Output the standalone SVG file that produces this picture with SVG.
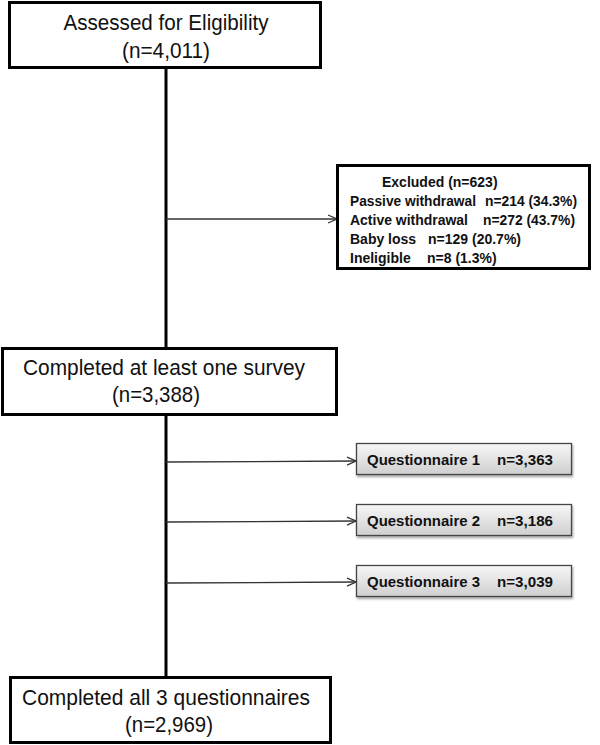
<svg xmlns="http://www.w3.org/2000/svg" width="600" height="745" viewBox="0 0 600 745">
<defs>
<linearGradient id="qg" x1="0" y1="0" x2="0" y2="1">
<stop offset="0" stop-color="#f7f7f7"/>
<stop offset="1" stop-color="#cfcfcf"/>
</linearGradient>
<filter id="sh" x="-5%" y="-20%" width="110%" height="150%">
<feDropShadow dx="1" dy="2" stdDeviation="1.2" flood-color="#000" flood-opacity="0.35"/>
</filter>
<marker id="ah" viewBox="0 0 10 10" refX="10" refY="5" markerWidth="10" markerHeight="10" markerUnits="userSpaceOnUse" orient="auto">
<path d="M1,1 L10,5 L1,9" fill="none" stroke="#333" stroke-width="1.3"/>
</marker>
<style>
.main{fill:#fff;stroke:#000;stroke-width:3}
.exc{fill:#fff;stroke:#000;stroke-width:3}
.q{fill:url(#qg);stroke:#444;stroke-width:1.3;filter:url(#sh)}
.t{font-family:"Liberation Sans",Arial,sans-serif;font-size:22px;fill:#111;text-anchor:middle}
.b{font-family:"Liberation Sans",Arial,sans-serif;font-size:14px;font-weight:bold;fill:#111}
.qb{font-family:"Liberation Sans",Arial,sans-serif;font-size:15px;font-weight:bold;fill:#111}
.arr{stroke:#333;stroke-width:1.3;fill:none;marker-end:url(#ah)}
</style>
</defs>
<rect width="600" height="745" fill="#fff"/>
<g id="connectors">
<line x1="166" y1="68" x2="166" y2="677" stroke="#000" stroke-width="3"/>
<line class="arr" x1="166" y1="219" x2="337" y2="219"/>
<line class="arr" x1="166" y1="462" x2="356" y2="461"/>
<line class="arr" x1="166" y1="522" x2="356" y2="521"/>
<line class="arr" x1="166" y1="583" x2="356" y2="582"/>
</g>
<g id="assessed">
<rect class="main" x="9.5" y="2.5" width="311" height="65"/>
<text class="t" x="166" y="30" textLength="205" lengthAdjust="spacingAndGlyphs">Assessed for Eligibility</text>
<text class="t" x="166" y="58" textLength="88" lengthAdjust="spacingAndGlyphs">(n=4,011)</text>
</g>
<g id="excluded">
<rect class="exc" x="337.5" y="165.5" width="252" height="103"/>
<text class="b" x="382" y="187">Excluded (n=623)</text>
<text class="b" x="350" y="206" textLength="126" lengthAdjust="spacingAndGlyphs">Passive withdrawal</text>
<text class="b" x="485" y="206" textLength="92" lengthAdjust="spacingAndGlyphs">n=214 (34.3%)</text>
<text class="b" x="350" y="225" textLength="118" lengthAdjust="spacingAndGlyphs">Active withdrawal</text>
<text class="b" x="483" y="225" textLength="92" lengthAdjust="spacingAndGlyphs">n=272 (43.7%)</text>
<text class="b" x="350" y="244">Baby loss</text>
<text class="b" x="428" y="244" textLength="93" lengthAdjust="spacingAndGlyphs">n=129 (20.7%)</text>
<text class="b" x="350" y="263">Ineligible</text>
<text class="b" x="427" y="263">n=8 (1.3%)</text>
</g>
<g id="completed-one">
<rect class="main" x="2.5" y="348.5" width="334" height="66"/>
<text class="t" x="164" y="375" textLength="282" lengthAdjust="spacingAndGlyphs">Completed at least one survey</text>
<text class="t" x="156" y="402" textLength="88" lengthAdjust="spacingAndGlyphs">(n=3,388)</text>
</g>
<g id="q1">
<rect class="q" x="356.5" y="443.5" width="215" height="31"/>
<text class="qb" x="367" y="465" textLength="113" lengthAdjust="spacingAndGlyphs">Questionnaire 1</text>
<text class="qb" x="497" y="465" textLength="56" lengthAdjust="spacingAndGlyphs">n=3,363</text>
</g>
<g id="q2">
<rect class="q" x="356.5" y="504.5" width="215" height="31"/>
<text class="qb" x="367" y="526" textLength="113" lengthAdjust="spacingAndGlyphs">Questionnaire 2</text>
<text class="qb" x="497" y="526" textLength="56" lengthAdjust="spacingAndGlyphs">n=3,186</text>
</g>
<g id="q3">
<rect class="q" x="356.5" y="565.5" width="215" height="31"/>
<text class="qb" x="367" y="587" textLength="113" lengthAdjust="spacingAndGlyphs">Questionnaire 3</text>
<text class="qb" x="497" y="587" textLength="56" lengthAdjust="spacingAndGlyphs">n=3,039</text>
</g>
<g id="completed-all">
<rect class="main" x="10.5" y="677.5" width="320" height="65"/>
<text class="t" x="166" y="705" textLength="288" lengthAdjust="spacingAndGlyphs">Completed all 3 questionnaires</text>
<text class="t" x="169" y="732" textLength="88" lengthAdjust="spacingAndGlyphs">(n=2,969)</text>
</g>
</svg>
